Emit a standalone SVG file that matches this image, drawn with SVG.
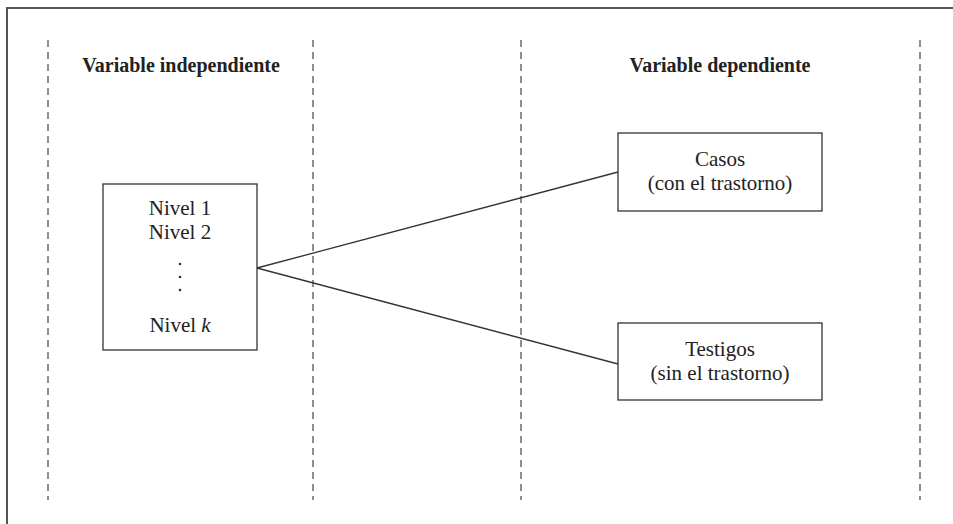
<svg xmlns="http://www.w3.org/2000/svg" width="953" height="524" viewBox="0 0 953 524">
  <style>
    .frame { fill: none; stroke: #555; stroke-width: 2; }
    .guide { stroke: #444; stroke-width: 1.2; stroke-dasharray: 7 5; }
    .box { fill: #fff; stroke: #333; stroke-width: 1.3; }
    .link { fill: none; stroke: #333; stroke-width: 1.3; }
    .head { font-family: "Liberation Serif", "Times New Roman", serif; font-weight: bold; font-size: 20px; fill: #222; text-anchor: middle; }
    .lbl { font-family: "Liberation Serif", "Times New Roman", serif; font-size: 21px; fill: #222; text-anchor: middle; }
  </style>
  <rect width="953" height="524" fill="#fff"/>
  <path class="frame" d="M7,524 V8 H953"/>

  <g id="guides">
    <line class="guide" x1="48" y1="40" x2="48" y2="500"/>
    <line class="guide" x1="313" y1="40" x2="313" y2="500"/>
    <line class="guide" x1="521" y1="40" x2="521" y2="500"/>
    <line class="guide" x1="920" y1="40" x2="920" y2="500"/>
  </g>

  <g id="header-independiente">
    <text class="head" x="181" y="72">Variable independiente</text>
  </g>
  <g id="header-dependiente">
    <text class="head" x="720" y="72">Variable dependiente</text>
  </g>

  <g id="connectors">
    <line class="link" x1="257" y1="268" x2="618" y2="172"/>
    <line class="link" x1="257" y1="268" x2="618" y2="364"/>
  </g>

  <g id="niveles">
    <rect class="box" x="103" y="184" width="154" height="166"/>
    <text class="lbl" x="180" y="215">Nivel 1</text>
    <text class="lbl" x="180" y="239">Nivel 2</text>
    <circle cx="180" cy="264" r="1.3" fill="#333"/>
    <circle cx="180" cy="277" r="1.3" fill="#333"/>
    <circle cx="180" cy="290" r="1.3" fill="#333"/>
    <text class="lbl" x="180" y="332">Nivel <tspan font-style="italic">k</tspan></text>
  </g>

  <g id="casos">
    <rect class="box" x="618" y="133" width="204" height="78"/>
    <text class="lbl" x="720" y="166">Casos</text>
    <text class="lbl" x="720" y="190">(con el trastorno)</text>
  </g>

  <g id="testigos">
    <rect class="box" x="618" y="323" width="204" height="77"/>
    <text class="lbl" x="720" y="356">Testigos</text>
    <text class="lbl" x="720" y="380">(sin el trastorno)</text>
  </g>
</svg>
